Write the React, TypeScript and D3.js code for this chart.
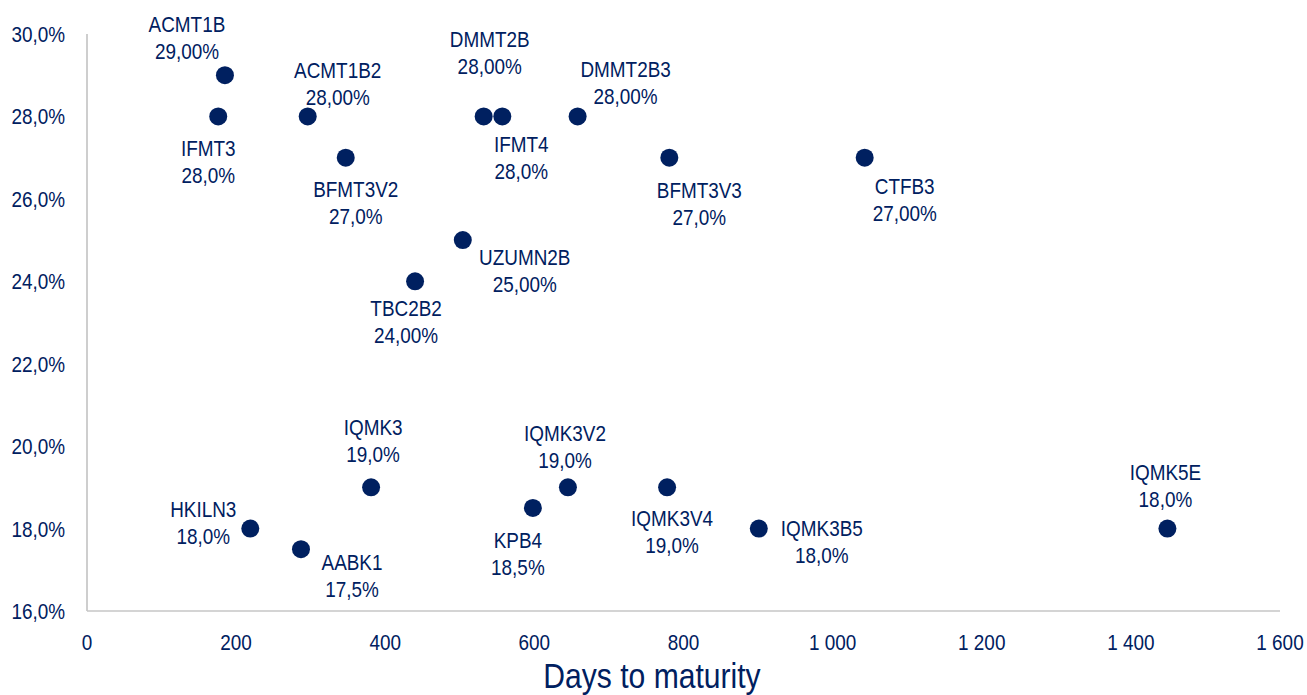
import React, { useEffect, useRef } from 'react'
import * as d3 from 'd3'

// bonds: name, days to maturity, yield %
const names = ['ACMT1B', 'IFMT3', 'ACMT1B2', 'BFMT3V2', 'DMMT2B', 'IFMT4', 'DMMT2B3', 'BFMT3V3', 'CTFB3',
  'UZUMN2B', 'TBC2B2', 'IQMK3', 'HKILN3', 'AABK1', 'KPB4', 'IQMK3V2', 'IQMK3V4', 'IQMK3B5', 'IQMK5E']
const days = [185, 176, 296, 347, 532, 557, 658, 781, 1043, 504, 440, 381, 219, 287, 598, 645, 778, 901, 1449]
const yields = [29, 28, 28, 27, 28, 28, 28, 27, 27, 25, 24, 19, 18, 17.5, 18.5, 19, 19, 18, 18]
const decimals = [2, 1, 2, 1, 2, 1, 2, 1, 2, 2, 2, 1, 1, 1, 1, 1, 1, 1, 1]
// label placement relative to the dot (px, centre of the first line)
const labelDx = [-38, -10, 30, 10, 6, 19, 48, 30, 40, 62, -9, 2, -47, 51, -15, -3, 5, 63, -2]
const labelDy = [-51, 32, -46, 31, -77, 28, -47, 32, 28, 17, 27, -60, -20, 13, 32, -54, 31, -1, -57]

const xTicks = [0, 200, 400, 600, 800, 1000, 1200, 1400, 1600]
const yTicks = [16, 18, 20, 22, 24, 26, 28, 30]

const W = 1307, H = 695
const navy = '#002060'
const font = '"Liberation Sans", Arial, sans-serif'
const squeeze = 0.86 // the original uses a condensed face

const fmtNum = (v: number) => d3.format(',')(v).replace(/,/g, ' ')
const fmtPct = (v: number, d: number) => v.toFixed(d).replace('.', ',') + '%'

export default function App() {
  const ref = useRef<SVGSVGElement>(null)

  useEffect(() => {
    const svg = d3.select(ref.current)
    svg.selectAll('*').remove()

    const x = d3.scaleLinear().domain([0, 1600]).range([87, 1280])
    const y = d3.scaleLinear().domain([16, 30]).range([611, 34])

    const g = svg.append('g').attr('font-family', font).attr('fill', navy)

    g.append('line').attr('x1', x(0)).attr('x2', x(0)).attr('y1', y(30)).attr('y2', y(16))
      .attr('stroke', '#c6c6c6').attr('stroke-width', 1.7)
    g.append('line').attr('x1', x(0)).attr('x2', x(1600)).attr('y1', y(16)).attr('y2', y(16))
      .attr('stroke', '#c6c6c6').attr('stroke-width', 1.7)

    g.selectAll('.yt').data(yTicks).enter().append('text')
      .attr('transform', d => `translate(65,${y(d) + 8}) scale(${squeeze},1)`)
      .attr('text-anchor', 'end').attr('font-size', 22)
      .text(d => fmtPct(d, 1))

    g.selectAll('.xt').data(xTicks).enter().append('text')
      .attr('transform', d => `translate(${x(d)},650) scale(${squeeze},1)`)
      .attr('text-anchor', 'middle').attr('font-size', 22)
      .text(d => fmtNum(d))

    g.append('text').attr('transform', `translate(652,688) scale(${squeeze},1)`)
      .attr('text-anchor', 'middle').attr('font-size', 35).text('Days to maturity')

    const idx = d3.range(names.length)
    g.selectAll('.dot').data(idx).enter().append('circle')
      .attr('cx', i => x(days[i])).attr('cy', i => y(yields[i])).attr('r', 9).attr('fill', navy)

    const lbl = g.selectAll('.lbl').data(idx).enter().append('text')
      .attr('text-anchor', 'middle').attr('font-size', 22)
      .attr('transform', i => `translate(${x(days[i]) + labelDx[i]},${y(yields[i]) + labelDy[i]}) scale(${squeeze},1)`)
    lbl.append('tspan').attr('x', 0).attr('y', 8).text(i => names[i])
    lbl.append('tspan').attr('x', 0).attr('y', 35).text(i => fmtPct(yields[i], decimals[i]))
  }, [])

  return <svg ref={ref} width={W} height={H} style={{ position: 'absolute', left: 0, top: 0 }} />
}
